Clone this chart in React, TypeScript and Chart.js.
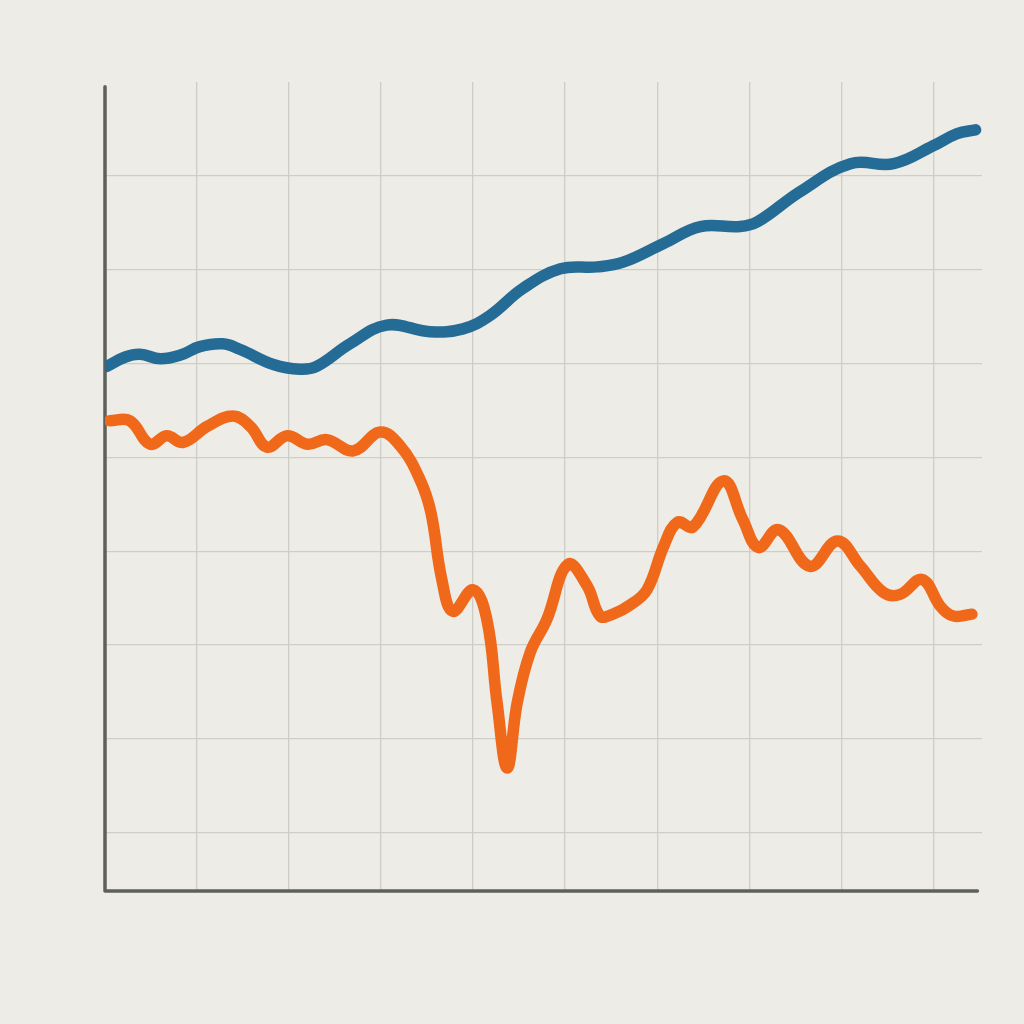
import React, { useEffect, useRef } from "react";
import { Chart, registerables } from "chart.js";

Chart.register(...registerables);

// Blue series (x in grid units, y in grid units)
const blueX = [0.02, 0.22, 0.38, 0.6, 0.82, 1.03, 1.28, 1.47, 1.83, 2.12, 2.3, 2.66, 3.06, 3.53, 3.89, 4.18, 4.54, 4.95, 5.35, 5.63, 6.07, 6.47, 6.9, 7.09, 7.55, 8.1, 8.57, 9.0, 9.26, 9.46];
const blueY = [4.97, 5.07, 5.1, 5.05, 5.09, 5.18, 5.21, 5.15, 4.99, 4.94, 4.97, 5.21, 5.41, 5.34, 5.37, 5.51, 5.8, 6.01, 6.03, 6.08, 6.28, 6.46, 6.46, 6.51, 6.83, 7.13, 7.13, 7.32, 7.45, 7.49];

// Orange series
const orangeX = [0.05, 0.27, 0.49, 0.67, 0.85, 1.11, 1.39, 1.58, 1.76, 1.98, 2.2, 2.41, 2.7, 2.99, 3.21, 3.42, 3.54, 3.66, 3.78, 4.0, 4.15, 4.26, 4.37, 4.48, 4.62, 4.8, 5.03, 5.24, 5.38, 5.52, 5.71, 5.89, 6.07, 6.22, 6.39, 6.72, 6.93, 7.1, 7.32, 7.66, 7.96, 8.21, 8.46, 8.64, 8.88, 9.08, 9.22, 9.42];
const orangeY = [4.39, 4.39, 4.14, 4.23, 4.16, 4.33, 4.44, 4.33, 4.11, 4.23, 4.14, 4.19, 4.07, 4.27, 4.12, 3.77, 3.42, 2.7, 2.36, 2.59, 2.27, 1.39, 0.69, 1.39, 1.92, 2.27, 2.86, 2.63, 2.31, 2.33, 2.43, 2.59, 3.05, 3.31, 3.26, 3.75, 3.34, 3.04, 3.23, 2.84, 3.11, 2.84, 2.56, 2.54, 2.7, 2.41, 2.31, 2.33];

// Grid tick values
const xGridTicks = [1, 2, 3, 4, 5, 6, 7, 8, 9];
const yGridTicks = [0, 1, 2, 3, 4, 5, 6, 7];

const X_MIN = 0;
const X_MAX = 9.53;
const Y_MIN = -0.62;
const Y_MAX = 8.0;
const AXIS_TOP = 7.95;
const AXIS_RIGHT = 9.48;

const BG = "#eeece6";
const GRID = "#cfcdc7";
const AXIS = "#5e605b";
const BLUE = "#246b96";
const ORANGE = "#f0691a";

const axisPlugin = {
  id: "handAxes",
  beforeDatasetsDraw(chart: any) {
    const { ctx, scales } = chart;
    const xs = scales.x;
    const ys = scales.y;
    const x0 = xs.getPixelForValue(X_MIN);
    const y0 = ys.getPixelForValue(Y_MIN);
    ctx.save();
    ctx.strokeStyle = AXIS;
    ctx.lineWidth = 3.5;
    ctx.lineCap = "round";
    ctx.lineJoin = "round";
    ctx.beginPath();
    ctx.moveTo(x0, ys.getPixelForValue(AXIS_TOP));
    ctx.lineTo(x0, y0);
    ctx.lineTo(xs.getPixelForValue(AXIS_RIGHT), y0);
    ctx.stroke();
    ctx.restore();
  },
};

export default function App() {
  const ref = useRef<HTMLCanvasElement | null>(null);

  useEffect(() => {
    if (!ref.current) return;
    const blueData = blueX.map((x, i) => ({ x, y: blueY[i] }));
    const orangeData = orangeX.map((x, i) => ({ x, y: orangeY[i] }));
    const chart = new Chart(ref.current, {
      type: "line",
      data: {
        datasets: [
          {
            data: blueData,
            borderColor: BLUE,
            borderWidth: 11.5,
            borderCapStyle: "round",
            borderJoinStyle: "round",
            pointRadius: 0,
            tension: 0.4,
            fill: false,
          },
          {
            data: orangeData,
            borderColor: ORANGE,
            borderWidth: 11.5,
            borderCapStyle: "round",
            borderJoinStyle: "round",
            pointRadius: 0,
            tension: 0.4,
            fill: false,
          },
        ],
      },
      options: {
        responsive: false,
        animation: false,
        layout: { padding: { left: 105, right: 42, top: 82, bottom: 133 } },
        plugins: { legend: { display: false }, tooltip: { enabled: false } },
        scales: {
          x: {
            type: "linear",
            min: X_MIN,
            max: X_MAX,
            afterBuildTicks: (s: any) => {
              s.ticks = xGridTicks.map((v) => ({ value: v }));
            },
            afterFit: (s: any) => {
              s.height = 0;
            },
            ticks: { display: false },
            grid: { color: GRID, lineWidth: 1.3, drawTicks: false },
            border: { display: false },
          },
          y: {
            type: "linear",
            min: Y_MIN,
            max: Y_MAX,
            afterBuildTicks: (s: any) => {
              s.ticks = yGridTicks.map((v) => ({ value: v }));
            },
            afterFit: (s: any) => {
              s.width = 0;
            },
            ticks: { display: false },
            grid: { color: GRID, lineWidth: 1.3, drawTicks: false },
            border: { display: false },
          },
        },
      },
      plugins: [axisPlugin],
    });
    return () => chart.destroy();
  }, []);

  return (
    <div
      style={{
        position: "fixed",
        left: 0,
        top: 0,
        width: 1024,
        height: 1024,
        background: BG,
      }}
    >
      <canvas ref={ref} width={1024} height={1024} />
    </div>
  );
}
